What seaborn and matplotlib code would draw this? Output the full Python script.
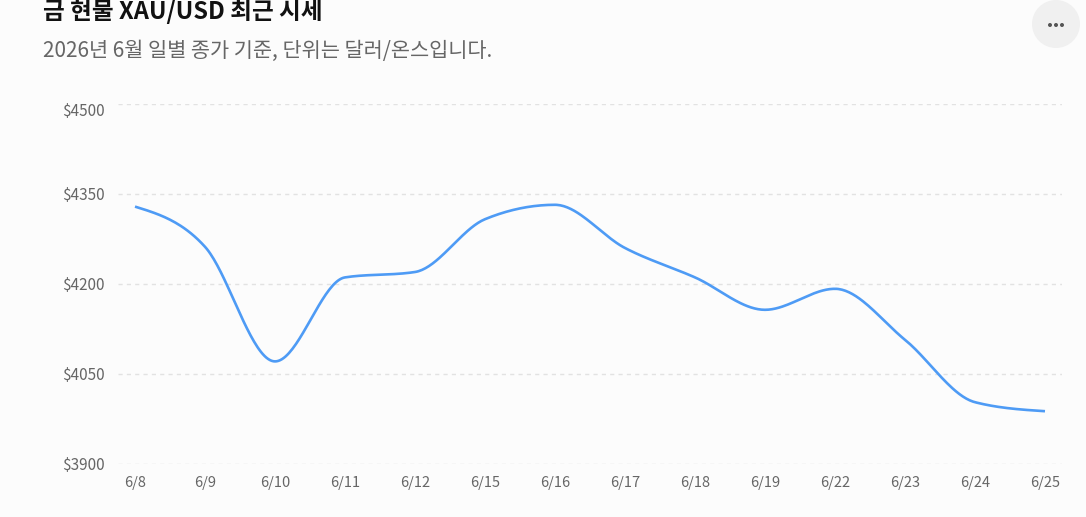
import numpy as np
import pandas as pd
import matplotlib
matplotlib.use("Agg")
import matplotlib.pyplot as plt
from matplotlib.patches import Ellipse
from matplotlib.transforms import ScaledTranslation
import seaborn as sns

# 금 현물 종가 (달러/온스), 그림에서 읽은 값
dates = ["6/8", "6/9", "6/10", "6/11", "6/12", "6/15", "6/16",
         "6/17", "6/18", "6/19", "6/22", "6/23", "6/24", "6/25"]
prices = [4329, 4262, 4071, 4211, 4220, 4308, 4332,
          4260, 4211, 4157, 4192, 4107, 4003, 3988]
y_ticks = [3900, 4050, 4200, 4350, 4500]

LINE = "#4e9bf5"
GRID = "#e2e2e2"
BG = "#fcfcfc"
GREY = "#666666"


# d3 curveMonotoneX 와 같은 방식으로 곡선을 그린다
def monotone_curve(xs, ys, n=40):
    xs = np.asarray(xs, float)
    ys = np.asarray(ys, float)
    h = np.diff(xs)
    s = np.diff(ys) / h
    t = np.zeros(len(xs))
    for i in range(1, len(xs) - 1):
        p = (s[i - 1] * h[i] + s[i] * h[i - 1]) / (h[i - 1] + h[i])
        t[i] = (np.sign(s[i - 1]) + np.sign(s[i])) * min(abs(s[i - 1]), abs(s[i]), 0.5 * abs(p))
    t[0] = (3 * s[0] - t[1]) / 2
    t[-1] = (3 * s[-1] - t[-2]) / 2
    out_x, out_y = [], []
    for i in range(len(xs) - 1):
        u = np.linspace(0, 1, n, endpoint=(i == len(xs) - 2))
        h00 = 2 * u**3 - 3 * u**2 + 1
        h10 = u**3 - 2 * u**2 + u
        h01 = -2 * u**3 + 3 * u**2
        h11 = u**3 - u**2
        out_x.append(xs[i] + u * h[i])
        out_y.append(h00 * ys[i] + h10 * h[i] * t[i] + h01 * ys[i + 1] + h11 * h[i] * t[i + 1])
    return np.concatenate(out_x), np.concatenate(out_y)


sns.set_theme(style="white")
plt.rcParams["font.family"] = ["Noto Sans CJK KR", "DejaVu Sans"]

W, H = 1086, 517
fig = plt.figure(figsize=(W / 100, H / 100), dpi=100, facecolor=BG)
ax = fig.add_axes([118 / W, 53 / H, (1062 - 118) / W, (464 - 104) / H])
ax.set_facecolor(BG)

pos = np.arange(len(dates))
cx, cy = monotone_curve(pos, prices)
df = pd.DataFrame({"x": cx, "y": cy})
sns.lineplot(data=df, x="x", y="y", ax=ax, color=LINE, linewidth=1.9,
             solid_capstyle="butt", estimator=None, sort=False)

ax.set_ylim(3900, 4500)
ax.set_xlim(-0.243, len(dates) - 1 + 0.243)
ax.set_yticks(y_ticks)
ax.set_yticklabels([f"${v}" for v in y_ticks])
ax.set_xticks(pos)
ax.set_xticklabels(dates)
ax.tick_params(axis="y", length=0, labelsize=11, labelcolor=GREY, pad=9.5)
ax.tick_params(axis="x", length=0, labelsize=10.5, labelcolor=GREY, pad=9)
ax.set_xlabel("")
ax.set_ylabel("")
ax.yaxis.grid(True, color=GRID, linestyle=(0, (3, 3)), linewidth=1)
ax.xaxis.grid(False)
for sp in ax.spines.values():
    sp.set_visible(False)

# 맨 위 눈금 글자는 원본처럼 조금 아래로
top_lab = ax.get_yticklabels()[-1]
top_lab.set_transform(top_lab.get_transform() + ScaledTranslation(0, -6 / 100, fig.dpi_scale_trans))

fig.text(43 / W, 1 - 12 / H, "금 현물 XAU/USD 최근 시세", fontsize=17,
         fontweight="bold", color="#111111", va="center", ha="left")
fig.text(43 / W, 1 - 51 / H, "2026년 6월 일별 종가 기준, 단위는 달러/온스입니다.",
         fontsize=15, color=GREY, va="center", ha="left")

# 오른쪽 위 "..." 버튼
fig.add_artist(Ellipse((1056 / W, 1 - 24 / H), 48 / W, 48 / H,
                       transform=fig.transFigure, color="#f0f0f0", lw=0))
for dx in (-6, 0, 6):
    fig.add_artist(Ellipse(((1056 + dx) / W, 1 - 25 / H), 4 / W, 4 / H,
                           transform=fig.transFigure, color="#555555", lw=0))

fig.savefig("out.png", dpi=100, facecolor=BG)
